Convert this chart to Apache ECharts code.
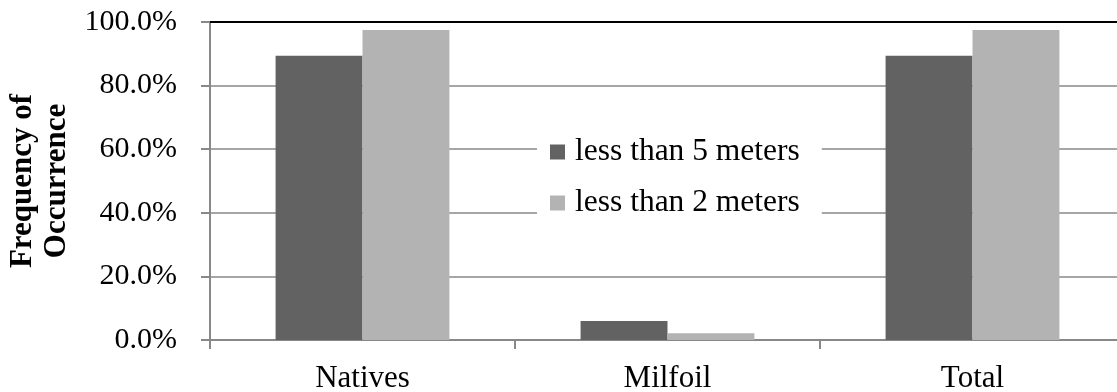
<!DOCTYPE html>
<html>
<head>
<meta charset="utf-8">
<script src="https://cdn.jsdelivr.net/npm/echarts@6/dist/echarts.min.js"></script>
<style>
  html, body { margin: 0; padding: 0; background: #fff; }
  #chart { width: 1117px; height: 392px; }
</style>
</head>
<body>
<div id="chart"></div>
<script>
// Frequency of occurrence by depth band
const categories = ['Natives', 'Milfoil', 'Total'];
const seriesNames = ['less than 5 meters', 'less than 2 meters'];
const lessThan5m = [89.4, 6.0, 89.4];
const lessThan2m = [97.5, 2.1, 97.5];
const yTicks = { min: 0, max: 100, interval: 20 };

const serif = '"Liberation Serif", "Times New Roman", serif';
const axisGray = '#888888';

const chart = echarts.init(document.getElementById('chart'), null, { renderer: 'canvas' });
chart.setOption({
  animation: false,
  backgroundColor: '#ffffff',
  textStyle: { fontFamily: serif },
  // plot area runs a little past the right edge of the canvas
  grid: { left: 210, width: 915, top: 22, height: 318, outerBoundsMode: 'none', containLabel: false },
  legend: {
    data: seriesNames,
    orient: 'vertical',
    left: 537,
    top: 128,
    backgroundColor: '#ffffff',
    padding: [6, 22, 6, 13],
    itemWidth: 15,
    itemHeight: 15,
    itemGap: 15,
    icon: 'rect',
    textStyle: { fontFamily: serif, fontSize: 31.5, color: '#000', lineHeight: 36, padding: [0, 0, 0, 5] }
  },
  xAxis: [
    {
      type: 'category',
      data: categories,
      axisLine: { lineStyle: { color: axisGray, width: 2 } },
      axisTick: { show: true, length: 9, lineStyle: { color: axisGray, width: 2 } },
      axisLabel: { fontFamily: serif, fontSize: 31, color: '#000', margin: 23 }
    },
    {
      type: 'category',
      position: 'top',
      data: categories,
      axisLine: { show: true, lineStyle: { color: '#000', width: 2 } },
      axisTick: { show: false },
      axisLabel: { show: false }
    }
  ],
  yAxis: {
    type: 'value',
    min: yTicks.min,
    max: yTicks.max,
    interval: yTicks.interval,
    name: 'Frequency of\nOccurrence',
    nameLocation: 'middle',
    nameRotate: 90,
    nameGap: 135,
    nameTextStyle: { fontFamily: serif, fontSize: 31, fontWeight: 'bold', color: '#000', lineHeight: 34 },
    axisLine: { show: true, lineStyle: { color: axisGray, width: 2 } },
    axisTick: { show: true, length: 9, lineStyle: { color: axisGray, width: 2 } },
    axisLabel: {
      fontFamily: serif, fontSize: 30, color: '#000', margin: 33,
      formatter: v => v.toFixed(1) + '%'
    },
    splitLine: { show: true, lineStyle: { color: axisGray, width: 1.5 } }
  },
  series: [
    {
      name: seriesNames[0],
      type: 'bar',
      data: lessThan5m,
      itemStyle: { color: '#626262' },
      barGap: '0%',
      barCategoryGap: '43%'
    },
    {
      name: seriesNames[1],
      type: 'bar',
      data: lessThan2m,
      itemStyle: { color: '#b3b3b3' },
      barGap: '0%',
      barCategoryGap: '43%'
    }
  ]
});
</script>
</body>
</html>
